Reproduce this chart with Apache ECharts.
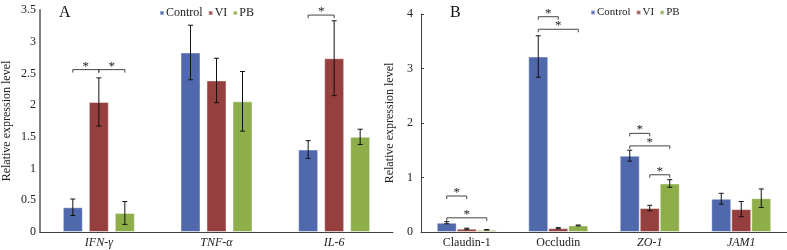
<!DOCTYPE html>
<html>
<head>
<meta charset="utf-8">
<script src="https://cdn.jsdelivr.net/npm/echarts@6/dist/echarts.min.js"></script>
<style>
  html, body { margin: 0; padding: 0; background: #fff; }
  #chart { width: 787px; height: 250px; }
</style>
</head>
<body>
<div id="chart"></div>
<script>
// 数据 - panel A (cytokines)
const catsA = ['IFN-γ', 'TNF-α', 'IL-6'];
const ctrlA = [0.39, 2.83, 1.30];
const ctrlErrA = [0.13, 0.43, 0.14];
const viA = [2.05, 2.39, 2.74];
const viErrA = [0.38, 0.35, 0.59];
const pbA = [0.30, 2.06, 1.50];
const pbErrA = [0.18, 0.47, 0.12];
// [category, from bar, to bar, y]
const sigA = [[0, 0, 1, 2.56], [0, 1, 2, 2.56], [2, 0, 1, 3.42]];

// panel B (tight junction)
const catsB = ['Claudin-1', 'Occludin', 'ZO-1', 'JAM1'];
const italicB = [false, false, true, true];
const ctrlB = [0.17, 3.22, 1.40, 0.61];
const ctrlErrB = [0.02, 0.38, 0.10, 0.10];
const viB = [0.06, 0.07, 0.44, 0.42];
const viErrB = [0.01, 0.01, 0.05, 0.14];
const pbB = [0.04, 0.12, 0.89, 0.62];
const pbErrB = [0.005, 0.008, 0.07, 0.17];
const sigB = [[0, 0, 1, 0.66], [0, 0, 2, 0.26], [1, 0, 1, 3.95], [1, 0, 2, 3.72],
              [2, 0, 1, 1.81], [2, 0, 2, 1.58], [2, 1, 2, 1.05]];

const names = ['Control', 'VI', 'PB'];
const colors = ['#5068AC', '#963F3F', '#8EAE4A'];
const FONT = 'Liberation Serif';

const barW = 20;
const gapA = 0.3, gapB = 0;

let myChart = echarts.init(document.getElementById('chart'));

function errData(vals, errs, s) {
    return vals.map((v, i) => [i, v, errs[i], s]);
}

function offsetOf(s, gap) {
    return (s - 1) * barW * (1 + gap);
}

// 误差线
function errRender(gap) {
    return function (params, api) {
        const c = api.value(0), v = api.value(1), e = api.value(2), s = api.value(3);
        const top = api.coord([c, v + e]);
        const bot = api.coord([c, v - e]);
        const x = top[0] + offsetOf(s, gap);
        const st = { stroke: '#111', lineWidth: 1, fill: null };
        return {
            type: 'group',
            children: [
                { type: 'line', shape: { x1: x, y1: top[1], x2: x, y2: bot[1] }, style: st },
                { type: 'line', shape: { x1: x - 2.5, y1: top[1], x2: x + 2.5, y2: top[1] }, style: st },
                { type: 'line', shape: { x1: x - 2.5, y1: bot[1], x2: x + 2.5, y2: bot[1] }, style: st }
            ]
        };
    };
}

// 显著性标记
function sigRender(gap) {
    return function (params, api) {
        const c = api.value(0), a = api.value(1), b = api.value(2), y = api.value(3);
        const p = api.coord([c, y]);
        const x1 = p[0] + offsetOf(a, gap), x2 = p[0] + offsetOf(b, gap);
        const st = { stroke: '#444', lineWidth: 1, fill: 'none' };
        return {
            type: 'group',
            children: [
                { type: 'line', shape: { x1: x1, y1: p[1] + 3, x2: x1, y2: p[1] }, style: st },
                { type: 'line', shape: { x1: x1, y1: p[1], x2: x2, y2: p[1] }, style: st },
                { type: 'line', shape: { x1: x2, y1: p[1], x2: x2, y2: p[1] + 3 }, style: st },
                { type: 'text', x: (x1 + x2) / 2, y: p[1] + 3,
                  style: { text: '*', fill: '#222', font: '13px "Liberation Serif"', align: 'center', verticalAlign: 'bottom' } }
            ]
        };
    };
}

function bars(vals, s, axis, gap) {
    return {
        name: names[s], type: 'bar', data: vals,
        xAxisIndex: axis, yAxisIndex: axis,
        barWidth: barW, barGap: (gap * 100) + '%',
        itemStyle: { color: colors[s], borderColor: 'rgba(255,255,255,0.45)', borderWidth: 1 },
        silent: true
    };
}

const axisLineStyle = { lineStyle: { color: '#404040', width: 1 } };
const labelStyle = { fontFamily: FONT, fontSize: 12, color: '#222' };

let option = {
    animation: false,
    textStyle: { fontFamily: FONT },
    title: [
        { text: 'A', left: 54, top: 0, textStyle: { fontFamily: FONT, fontSize: 16, fontWeight: 'normal', color: '#111' } },
        { text: 'B', left: 445, top: 0, textStyle: { fontFamily: FONT, fontSize: 16, fontWeight: 'normal', color: '#111' } }
    ],
    legend: [
        { data: names, left: 154, top: 2, icon: 'rect', itemWidth: 4, itemHeight: 4, itemGap: 5,
          textStyle: { fontFamily: FONT, fontSize: 12, color: '#222', padding: [0, 0, 0, -3] } },
        { data: names, left: 585, top: 2, icon: 'rect', itemWidth: 4, itemHeight: 4, itemGap: 5,
          textStyle: { fontFamily: FONT, fontSize: 11, color: '#222', padding: [0, 0, 0, -3] } }
    ],
    grid: [
        { left: 33, right: 394, top: 10, bottom: 18 },
        { left: 421, right: 0, top: 14, bottom: 18 }
    ],
    xAxis: [
        { type: 'category', gridIndex: 0, data: catsA,
          axisLine: axisLineStyle, axisTick: { show: false },
          axisLabel: Object.assign({}, labelStyle, { fontStyle: 'italic', margin: 5 }) },
        { type: 'category', gridIndex: 1, data: catsB,
          axisLine: axisLineStyle, axisTick: { show: false },
          axisLabel: Object.assign({}, labelStyle, {
              margin: 5,
              formatter: (v, i) => italicB[i] ? '{it|' + v + '}' : v,
              rich: { it: { fontStyle: 'italic', fontFamily: FONT, fontSize: 12, color: '#222' } }
          }) }
    ],
    yAxis: [
        { type: 'value', gridIndex: 0, min: 0, max: 3.5, interval: 0.5,
          name: 'Relative expression level', nameLocation: 'middle', nameGap: 27,
          nameTextStyle: { fontFamily: FONT, fontSize: 12, color: '#222' },
          axisLine: { show: true, lineStyle: { color: '#808080', width: 2 } },
          axisTick: { show: false }, splitLine: { show: false },
          axisLabel: Object.assign({}, labelStyle, { margin: 4 }) },
        { type: 'value', gridIndex: 1, min: 0, max: 4, interval: 1,
          name: 'Relative expression level', nameLocation: 'middle', nameGap: 25,
          nameTextStyle: { fontFamily: FONT, fontSize: 12, color: '#222' },
          axisLine: { show: true, lineStyle: { color: '#404040', width: 1 } },
          axisTick: { show: true, inside: true, length: 3, lineStyle: { color: '#404040' } },
          splitLine: { show: false },
          axisLabel: Object.assign({}, labelStyle, { margin: 8 }) }
    ],
    series: [
        bars(ctrlA, 0, 0, gapA), bars(viA, 1, 0, gapA), bars(pbA, 2, 0, gapA),
        bars(ctrlB, 0, 1, gapB), bars(viB, 1, 1, gapB), bars(pbB, 2, 1, gapB),
        { type: 'custom', xAxisIndex: 0, yAxisIndex: 0, renderItem: errRender(gapA), clip: false, z: 5,
          data: [].concat(errData(ctrlA, ctrlErrA, 0), errData(viA, viErrA, 1), errData(pbA, pbErrA, 2)) },
        { type: 'custom', xAxisIndex: 1, yAxisIndex: 1, renderItem: errRender(gapB), clip: false, z: 5,
          data: [].concat(errData(ctrlB, ctrlErrB, 0), errData(viB, viErrB, 1), errData(pbB, pbErrB, 2)) },
        { type: 'custom', xAxisIndex: 0, yAxisIndex: 0, renderItem: sigRender(gapA), clip: false, z: 5, data: sigA },
        { type: 'custom', xAxisIndex: 1, yAxisIndex: 1, renderItem: sigRender(gapB), clip: false, z: 5, data: sigB }
    ]
};

myChart.setOption(option);
</script>
</body>
</html>
